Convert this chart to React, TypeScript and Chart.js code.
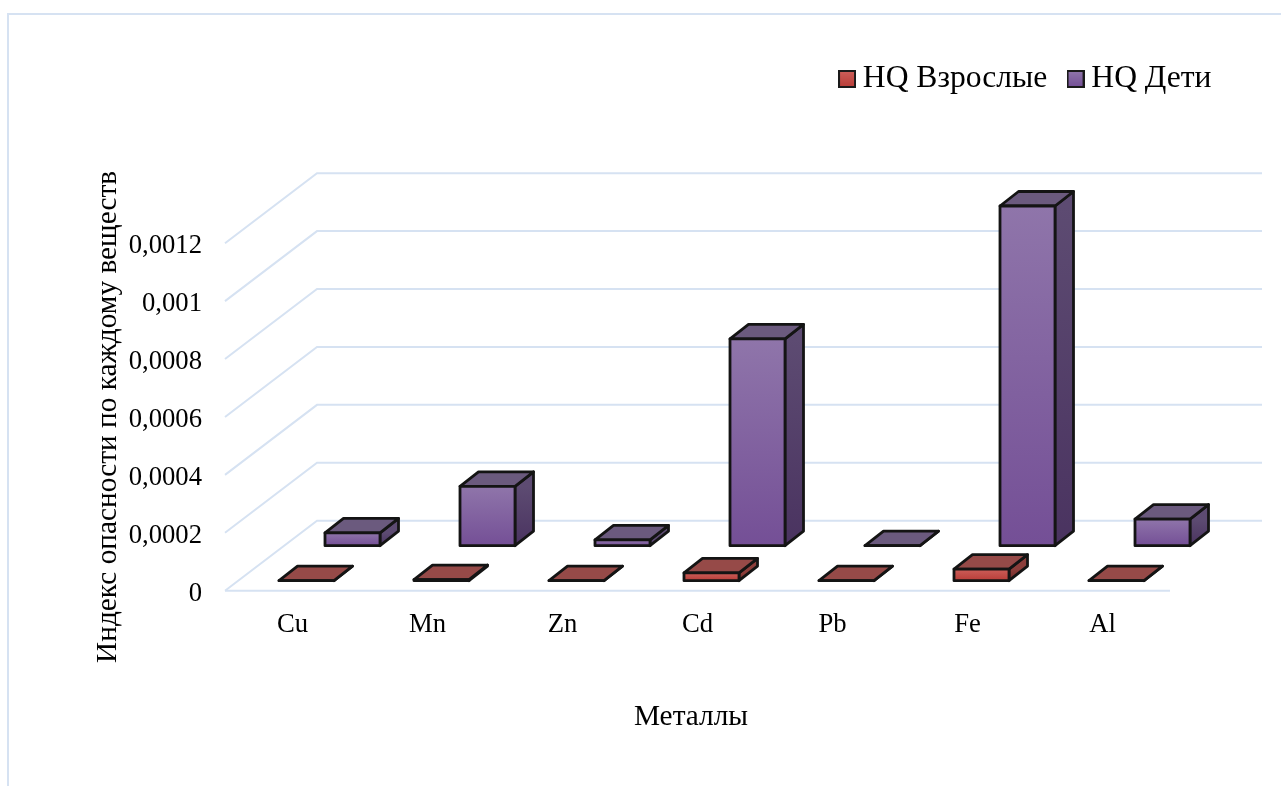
import React, { useEffect, useRef } from "react";
import { Chart, registerables } from "chart.js";

Chart.register(...registerables);

const categories = ["Cu", "Mn", "Zn", "Cd", "Pb", "Fe", "Al"];
const hqAdults = [0, 0.000004, 0, 0.000027, 0, 0.00004, 0];
const hqChildren = [0.000044, 0.000205, 0.00002, 0.000714, 0, 0.001173, 0.000092];
const yTickLabels = ["0", "0,0002", "0,0004", "0,0006", "0,0008", "0,001", "0,0012"];
const seriesNames = ["HQ Взрослые", "HQ Дети"];
const yTitle = "Индекс опасности по каждому веществ";
const xTitle = "Металлы";

const FONT = "'Liberation Serif', 'Times New Roman', serif";
const FONT_SIZE = 26.67;
const TITLE_SIZE = 29.33;
const LEGEND_SIZE = 31.6;
const LEGEND_PAD = 28.2;
const GRID = "#d6e2f2";
const WALL = { dx: 92, dy: -70 };
const DEPTH = { dx: 18.5, dy: -14.5 };
const ROW = [
  { dx: 14, dy: -10 },
  { dx: 60, dy: -45 },
];
const PAL = [
  { f0: "#cc5e59", f1: "#b83d38", top: "#964a48", s0: "#8c3e3b", s1: "#702b29" },
  { f0: "#8f75aa", f1: "#744f96", top: "#6b5a7e", s0: "#5d4b72", s1: "#4a3360" },
];

function swatch(p: (typeof PAL)[number]) {
  const c = document.createElement("canvas");
  c.width = 18;
  c.height = 18;
  const x = c.getContext("2d")!;
  const g = x.createLinearGradient(0, 1, 0, 17);
  g.addColorStop(0, p.f0);
  g.addColorStop(1, p.f1);
  x.fillStyle = g;
  x.strokeStyle = "#1a1a1a";
  x.lineWidth = 2;
  x.fillRect(1, 1, 16, 16);
  x.strokeRect(1, 1, 16, 16);
  return c;
}

const poly = (ctx: CanvasRenderingContext2D, pts: number[][], fill: any) => {
  ctx.beginPath();
  pts.forEach((p, i) => (i ? ctx.lineTo(p[0], p[1]) : ctx.moveTo(p[0], p[1])));
  ctx.closePath();
  ctx.fillStyle = fill;
  ctx.fill();
  ctx.stroke();
};

const scene3d = {
  id: "scene3d",
  afterLayout(chart: any) {
    const l = chart.legend;
    const w = l.right - l.left;
    l.left = 847 - LEGEND_PAD;
    l.right = l.left + w;
    l.top = 79 - LEGEND_SIZE / 2 - LEGEND_PAD;
    const s = chart.scales.x;
    if (!s.__patched) {
      const orig = s.drawTitle;
      s.drawTitle = function () {
        const c = this.ctx;
        c.save();
        c.translate(-6.5, 0);
        orig.call(this);
        c.restore();
      };
      s.__patched = true;
    }
  },
  beforeDraw(chart: any) {
    const ctx = chart.ctx;
    ctx.save();
    ctx.strokeStyle = GRID;
    ctx.lineWidth = 2;
    ctx.strokeRect(8, 14, 1500, 1000);
    ctx.restore();
  },
  beforeDatasetsDraw(chart: any) {
    const { ctx, chartArea: a } = chart;
    const y = chart.scales.y;
    ctx.save();
    ctx.strokeStyle = GRID;
    ctx.lineWidth = 2;
    y.ticks.forEach((t: any) => {
      const py = y.getPixelForValue(t.value);
      ctx.beginPath();
      ctx.moveTo(a.left, py);
      ctx.lineTo(a.left + WALL.dx, py + WALL.dy);
      ctx.lineTo(a.right + WALL.dx, py + WALL.dy);
      ctx.stroke();
      if (t.value === 0) {
        ctx.beginPath();
        ctx.moveTo(a.left, py);
        ctx.lineTo(a.right, py);
        ctx.stroke();
      }
    });
    ctx.restore();
  },
  beforeDatasetDraw(chart: any, args: any) {
    const ctx = chart.ctx;
    const i = args.index;
    const meta = args.meta;
    const p = PAL[i];
    const r = ROW[i];
    ctx.save();
    ctx.strokeStyle = "#141414";
    ctx.lineWidth = 2.8;
    ctx.lineJoin = "round";
    meta.data.forEach((el: any) => {
      const { x, y, base, width } = el.getProps(["x", "y", "base", "width"], true);
      const L = x - width / 2 + r.dx;
      const R = x + width / 2 + r.dx;
      const T = y + r.dy;
      const B = base + r.dy;
      const d = DEPTH;
      const side = ctx.createLinearGradient(0, T, 0, B);
      side.addColorStop(0, p.s0);
      side.addColorStop(1, p.s1);
      const front = ctx.createLinearGradient(0, T, 0, B + 0.01);
      front.addColorStop(0, p.f0);
      front.addColorStop(1, p.f1);
      poly(ctx, [[R, T], [R + d.dx, T + d.dy], [R + d.dx, B + d.dy], [R, B]], side);
      poly(ctx, [[L, T], [L + d.dx, T + d.dy], [R + d.dx, T + d.dy], [R, T]], p.top);
      poly(ctx, [[L, T], [R, T], [R, B], [L, B]], front);
    });
    ctx.restore();
    return false;
  },
};

export default function App() {
  const ref = useRef<HTMLCanvasElement | null>(null);
  useEffect(() => {
    const chart = new Chart(ref.current!, {
      type: "bar",
      data: {
        labels: categories,
        datasets: [
          { label: seriesNames[0], data: hqAdults, backgroundColor: PAL[0].f1, grouped: false, barPercentage: 55 / 135, categoryPercentage: 1 } as any,
          { label: seriesNames[1], data: hqChildren, backgroundColor: PAL[1].f1, grouped: false, barPercentage: 55 / 135, categoryPercentage: 1 } as any,
        ],
      },
      options: {
        responsive: false,
        animation: false,
        layout: { padding: { top: 173.4, left: 90.4, right: 111, bottom: 51.4 } },
        plugins: {
          tooltip: { enabled: false },
          legend: {
            position: "top",
            align: "start",
            labels: {
              color: "#000",
              font: { family: FONT, size: LEGEND_SIZE },
              padding: LEGEND_PAD,
              usePointStyle: true,
              pointStyleWidth: 0.01,
              generateLabels: () =>
                seriesNames.map((n, i) => ({
                  text: n,
                  fillStyle: PAL[i].f1,
                  strokeStyle: "#141414",
                  lineWidth: 0,
                  pointStyle: swatch(PAL[i]),
                  datasetIndex: i,
                })),
            },
          },
        },
        scales: {
          x: {
            grid: { display: false },
            border: { display: false },
            afterFit: (s: any) => {
              s.height = 143.9;
            },
            ticks: {
              color: "#000",
              font: { family: FONT, size: FONT_SIZE },
              padding: 10.3,
              autoSkip: false,
              maxRotation: 0,
            },
            title: {
              display: true,
              text: xTitle,
              color: "#000",
              font: { family: FONT, size: TITLE_SIZE },
              padding: 0,
            },
          },
          y: {
            min: 0,
            max: 0.0012,
            grid: { display: false, drawTicks: false },
            border: { display: false },
            afterFit: (s: any) => {
              s.width = 134.6;
            },
            ticks: {
              stepSize: 0.0002,
              color: "#000",
              font: { family: FONT, size: FONT_SIZE },
              padding: 23,
              labelOffset: 3,
              callback: (_v: any, i: number) => yTickLabels[i],
            },
            title: {
              display: true,
              text: yTitle,
              color: "#000",
              font: { family: FONT, size: TITLE_SIZE },
              padding: 0,
            },
          },
        },
      },
      plugins: [scene3d as any],
    });
    return () => chart.destroy();
  }, []);
  return (
    <canvas
      ref={ref}
      width={1281}
      height={786}
      style={{ position: "fixed", left: 0, top: 0, display: "block", width: 1281, height: 786 }}
    />
  );
}
